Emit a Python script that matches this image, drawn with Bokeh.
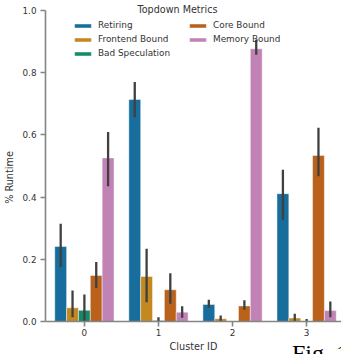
import numpy as np
from bokeh.plotting import figure
from bokeh.models import (ColumnDataSource, Legend, LegendItem, Label, FixedTicker,
                          Range1d, PrintfTickFormatter)
from bokeh.embed import file_html
from bokeh.resources import INLINE

# ---- data ----
clusters = [0, 1, 2, 3]
cluster_labels = {0: "0", 1: "1", 2: "2", 3: "3"}
metrics = ["Retiring", "Frontend Bound", "Bad Speculation", "Core Bound", "Memory Bound"]
colors = ["#176d9c", "#c38820", "#158a6a", "#ba611b", "#c182b5"]

retiring = [0.241, 0.714, 0.055, 0.411]
retiring_lo = [0.175, 0.657, 0.044, 0.327]
retiring_hi = [0.314, 0.770, 0.070, 0.488]

frontend = [0.044, 0.145, 0.009, 0.011]
frontend_lo = [0.014, 0.062, 0.0, 0.0]
frontend_hi = [0.100, 0.234, 0.019, 0.025]

badspec = [0.036, 0.003, 0.0, 0.002]
badspec_lo = [0.0, 0.0, 0.0, 0.0]
badspec_hi = [0.087, 0.014, 0.0, 0.008]

core = [0.148, 0.102, 0.050, 0.534]
core_lo = [0.108, 0.057, 0.038, 0.467]
core_hi = [0.191, 0.155, 0.068, 0.623]

memory = [0.526, 0.030, 0.877, 0.035]
memory_lo = [0.435, 0.012, 0.858, 0.014]
memory_hi = [0.609, 0.049, 0.906, 0.064]

yticks = [0.0, 0.2, 0.4, 0.6, 0.8, 1.0]

series = [(retiring, retiring_lo, retiring_hi),
          (frontend, frontend_lo, frontend_hi),
          (badspec, badspec_lo, badspec_hi),
          (core, core_lo, core_hi),
          (memory, memory_lo, memory_hi)]

FONT = "DejaVu Sans"
TXT = "#333333"
SPINE = "#858585"

W, H = 341, 354
TOP_PX, ZERO_PX = 10, 321          # pixel rows of 1.0 and 0.0
ppu = (ZERO_PX - TOP_PX) / 1.0
y0 = -(H - ZERO_PX) / ppu
y1 = 1.0 + TOP_PX / ppu

p = figure(width=W, height=H, output_backend="svg", toolbar_location=None,
           x_range=Range1d(-0.525, 3.471), y_range=Range1d(y0, y1),
           min_border_left=44, min_border_right=0, min_border_top=0, min_border_bottom=0)
p.outline_line_color = None
p.xgrid.visible = False
p.ygrid.visible = False
p.background_fill_color = "white"
p.border_fill_color = "white"

bw = 0.8 / len(metrics)
renderers = []
for i, (vals, lo, hi) in enumerate(series):
    xs = [c + (i - 2) * bw for c in clusters]
    src = ColumnDataSource(dict(x=xs, top=vals, lo=lo, hi=hi))
    r = p.vbar(x="x", top="top", bottom=0, width=bw, source=src,
               fill_color=colors[i], line_color="white", line_alpha=0.45, line_width=1)
    renderers.append(r)
    p.segment(x0="x", x1="x", y0="lo", y1="hi", source=src,
              line_color="#404040", line_width=2.3)

# axes
for ax in (p.xaxis[0], p.yaxis[0]):
    ax.axis_line_color = SPINE
    ax.axis_line_width = 1.6
    ax.major_tick_line_color = SPINE
    ax.major_tick_line_width = 1.6
    ax.major_tick_out = 5
    ax.major_tick_in = 0
    ax.minor_tick_line_color = None
    ax.major_label_text_font = FONT
    ax.major_label_text_font_size = "8.8px"
    ax.major_label_text_color = TXT
    ax.axis_label_text_font = FONT
    ax.axis_label_text_font_size = "9.7px"
    ax.axis_label_text_font_style = "normal"
    ax.axis_label_text_color = TXT

p.xaxis.ticker = FixedTicker(ticks=clusters)
p.xaxis.major_label_overrides = cluster_labels
p.xaxis.axis_label = "Cluster ID"
p.xaxis.major_label_standoff = 2
p.xaxis.axis_label_standoff = 2
p.xaxis.fixed_location = 0
p.yaxis.ticker = FixedTicker(ticks=yticks)
p.yaxis.formatter = PrintfTickFormatter(format="%.1f")
p.yaxis.axis_label = "% Runtime"
p.yaxis.major_label_standoff = 4
p.yaxis.axis_label_standoff = 5
p.yaxis.bounds = (0, 1)

# legends (two columns)
def make_legend(idx, loc):
    lg = Legend(items=[LegendItem(label=metrics[k], renderers=[renderers[k]]) for k in idx],
                location=loc, orientation="vertical",
                border_line_color=None, background_fill_alpha=0,
                padding=0, margin=0, spacing=0,
                glyph_width=21, glyph_height=5, label_height=14, label_standoff=5,
                label_text_font=FONT, label_text_font_size="8.9px",
                label_text_color=TXT)
    return lg

p.add_layout(make_legend([0, 1, 2], (27, H - 60)))
p.add_layout(make_legend([3, 4], (142, H - 46)))

title = Label(x=132, y=H - 9.3, x_units="screen", y_units="screen", text="Topdown Metrics",
              text_align="center", text_baseline="middle",
              text_font=FONT, text_font_size="9.6px", text_color=TXT)
p.add_layout(title)

fig_caption = Label(x=246.5, y=2, x_units="screen", y_units="screen", text="Fig. 1",
                    text_align="left", text_baseline="alphabetic",
                    text_font="Liberation Serif", text_font_size="24px",
                    text_color="black")
p.add_layout(fig_caption)

open("out.html", "w").write(file_html(p, INLINE))
